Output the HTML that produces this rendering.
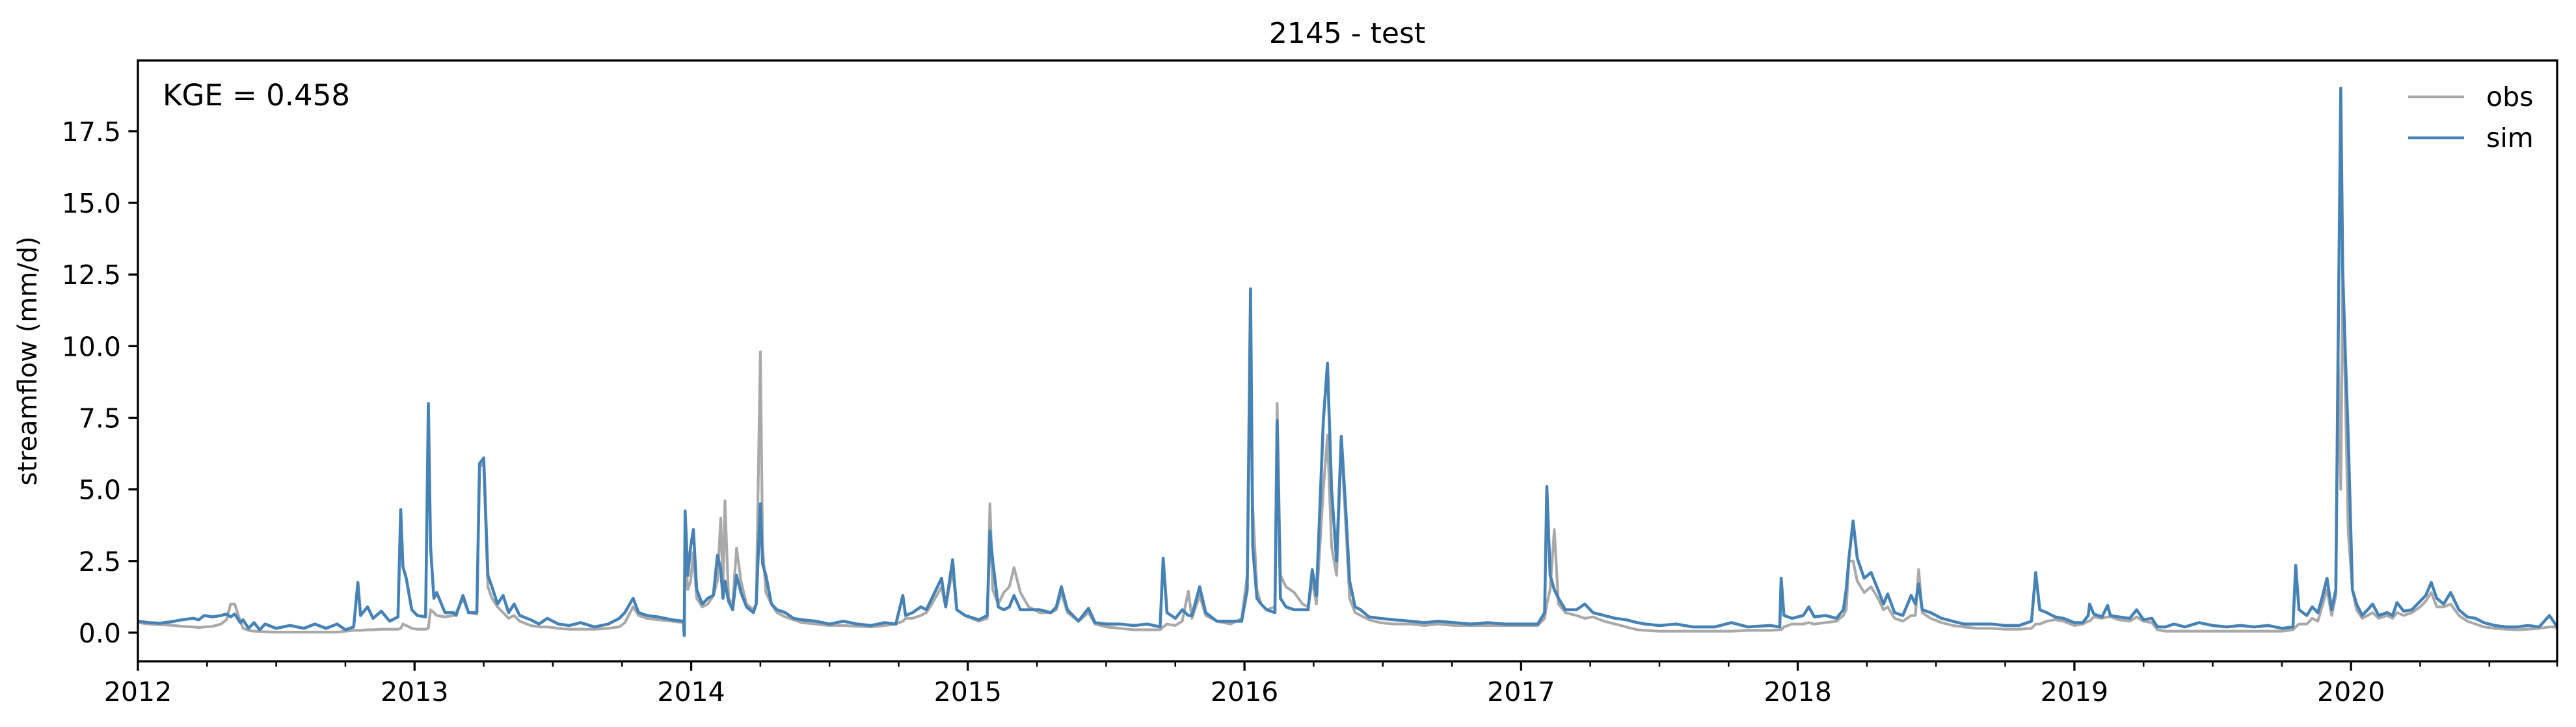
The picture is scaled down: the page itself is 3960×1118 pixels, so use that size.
<!DOCTYPE html>
<html><head><meta charset="utf-8"><style>
html,body{margin:0;padding:0;background:#fff;}
svg{display:block;font-family:"DejaVu Sans","Liberation Sans",sans-serif;}
</style></head><body>
<svg id="chart" width="3960" height="1118" viewBox="0 0 3960 1118" xmlns="http://www.w3.org/2000/svg">
<defs><clipPath id="plotclip"><rect x="212" y="93" width="3719" height="924"/></clipPath></defs>
<rect x="0" y="0" width="3960" height="1118" fill="#fff"/>
<text x="2071" y="66" text-anchor="middle" font-size="44">2145 - test</text>
<text transform="translate(56,555) rotate(-90)" text-anchor="middle" font-size="40">streamflow (mm/d)</text>
<g id="yticks"></g>
<g id="xticks"></g>
<g clip-path="url(#plotclip)">
<polyline id="obsLine" fill="none" stroke="#a9a9a9" stroke-width="4.2" stroke-linejoin="round"/>
<polyline id="simLine" fill="none" stroke="#4682b4" stroke-width="4.6" stroke-linejoin="round"/>
</g>
<rect x="212" y="93" width="3719" height="924" fill="none" stroke="#000" stroke-width="3.3"/>
<text x="250" y="162" font-size="45">KGE = 0.458</text>
<g>
<line x1="3702" y1="149" x2="3788" y2="149" stroke="#a9a9a9" stroke-width="4.2"/>
<text x="3822" y="163" font-size="41">obs</text>
<line x1="3702" y1="212" x2="3788" y2="212" stroke="#4682b4" stroke-width="4.6"/>
<text x="3822" y="226" font-size="41">sim</text>
</g>
</svg>
<script>
const dates = [2012.000,2012.040,2012.080,2012.120,2012.160,2012.200,2012.220,2012.240,2012.270,2012.300,2012.320,2012.335,2012.350,2012.370,2012.380,2012.400,2012.420,2012.440,2012.460,2012.500,2012.550,2012.600,2012.640,2012.680,2012.720,2012.750,2012.780,2012.795,2012.805,2012.830,2012.850,2012.880,2012.910,2012.940,2012.950,2012.958,2012.970,2012.990,2013.010,2013.040,2013.050,2013.058,2013.070,2013.080,2013.110,2013.140,2013.150,2013.175,2013.195,2013.225,2013.235,2013.250,2013.265,2013.280,2013.300,2013.320,2013.340,2013.360,2013.380,2013.420,2013.450,2013.480,2013.520,2013.560,2013.600,2013.650,2013.700,2013.740,2013.760,2013.790,2013.810,2013.840,2013.880,2013.930,2013.972,2013.975,2013.978,2013.988,2013.998,2014.008,2014.020,2014.040,2014.060,2014.080,2014.095,2014.107,2014.115,2014.122,2014.135,2014.150,2014.164,2014.180,2014.200,2014.225,2014.235,2014.250,2014.258,2014.270,2014.290,2014.310,2014.340,2014.370,2014.400,2014.450,2014.500,2014.550,2014.600,2014.650,2014.700,2014.740,2014.765,2014.775,2014.800,2014.830,2014.850,2014.870,2014.905,2014.920,2014.945,2014.960,2014.990,2015.040,2015.070,2015.080,2015.090,2015.110,2015.130,2015.150,2015.167,2015.190,2015.220,2015.260,2015.300,2015.320,2015.338,2015.360,2015.400,2015.436,2015.460,2015.500,2015.550,2015.600,2015.650,2015.695,2015.706,2015.720,2015.750,2015.775,2015.797,2015.810,2015.838,2015.860,2015.900,2015.950,2015.990,2016.010,2016.022,2016.030,2016.045,2016.060,2016.080,2016.110,2016.118,2016.130,2016.150,2016.180,2016.210,2016.230,2016.245,2016.260,2016.285,2016.300,2016.315,2016.333,2016.350,2016.365,2016.380,2016.400,2016.420,2016.450,2016.490,2016.540,2016.600,2016.650,2016.700,2016.760,2016.820,2016.880,2016.940,2017.000,2017.060,2017.085,2017.093,2017.105,2017.120,2017.135,2017.160,2017.200,2017.230,2017.260,2017.300,2017.340,2017.380,2017.420,2017.450,2017.500,2017.560,2017.620,2017.700,2017.760,2017.820,2017.900,2017.935,2017.940,2017.950,2017.980,2018.020,2018.040,2018.060,2018.100,2018.140,2018.165,2018.175,2018.185,2018.200,2018.215,2018.240,2018.265,2018.290,2018.310,2018.325,2018.350,2018.380,2018.410,2018.425,2018.437,2018.450,2018.480,2018.520,2018.560,2018.600,2018.650,2018.700,2018.750,2018.800,2018.845,2018.860,2018.875,2018.900,2018.930,2018.960,2019.000,2019.030,2019.050,2019.055,2019.070,2019.100,2019.120,2019.130,2019.160,2019.200,2019.225,2019.250,2019.280,2019.300,2019.330,2019.360,2019.400,2019.450,2019.500,2019.550,2019.600,2019.650,2019.700,2019.750,2019.790,2019.800,2019.812,2019.840,2019.860,2019.880,2019.895,2019.913,2019.930,2019.945,2019.953,2019.963,2019.970,2019.980,2019.990,2020.005,2020.020,2020.040,2020.060,2020.078,2020.100,2020.130,2020.150,2020.166,2020.190,2020.220,2020.250,2020.270,2020.290,2020.310,2020.335,2020.360,2020.390,2020.420,2020.450,2020.480,2020.520,2020.560,2020.600,2020.640,2020.680,2020.717,2020.735,2020.745];
const obs = [0.35,0.30,0.28,0.26,0.22,0.20,0.18,0.20,0.22,0.30,0.45,1.00,1.00,0.40,0.15,0.08,0.05,0.04,0.03,0.02,0.02,0.02,0.02,0.02,0.02,0.05,0.08,0.08,0.08,0.10,0.10,0.12,0.12,0.12,0.15,0.30,0.25,0.15,0.12,0.12,0.15,0.80,0.70,0.60,0.55,0.60,0.70,1.20,0.70,0.65,5.80,5.90,1.60,1.20,0.90,0.70,0.50,0.60,0.40,0.25,0.20,0.20,0.15,0.12,0.12,0.12,0.15,0.20,0.35,0.90,0.60,0.50,0.45,0.40,0.35,0.35,2.80,1.50,1.80,2.80,1.20,0.90,1.00,1.30,1.80,4.00,1.50,4.60,1.20,1.00,2.95,1.80,1.00,0.80,1.00,9.80,3.00,1.40,1.00,0.70,0.55,0.45,0.35,0.30,0.25,0.25,0.22,0.20,0.25,0.30,0.40,0.50,0.50,0.60,0.70,1.00,1.60,0.90,2.20,0.80,0.60,0.40,0.50,4.50,1.50,1.00,1.40,1.60,2.27,1.40,0.90,0.70,0.70,0.80,1.40,0.70,0.40,0.70,0.30,0.20,0.15,0.10,0.10,0.10,0.20,0.30,0.25,0.40,1.45,0.50,1.30,0.60,0.40,0.30,0.50,2.00,9.50,4.40,1.50,1.00,0.80,0.90,8.00,2.00,1.60,1.40,1.00,0.90,1.80,1.00,5.00,6.90,3.00,2.00,6.60,4.00,1.20,0.70,0.60,0.45,0.35,0.30,0.30,0.25,0.30,0.25,0.25,0.25,0.25,0.25,0.25,0.50,1.00,1.50,3.60,1.00,0.70,0.60,0.50,0.55,0.40,0.30,0.20,0.10,0.08,0.05,0.05,0.05,0.05,0.05,0.08,0.08,0.10,0.10,0.20,0.30,0.30,0.35,0.30,0.35,0.40,0.60,0.80,2.50,2.50,1.80,1.40,1.60,1.20,0.80,0.90,0.50,0.40,0.60,0.60,2.20,0.70,0.50,0.35,0.25,0.20,0.15,0.15,0.12,0.12,0.15,0.30,0.30,0.40,0.45,0.40,0.25,0.30,0.40,0.40,0.55,0.50,0.55,0.55,0.45,0.40,0.55,0.40,0.35,0.10,0.05,0.05,0.05,0.05,0.05,0.05,0.05,0.05,0.05,0.05,0.10,0.20,0.30,0.30,0.50,0.40,0.90,1.50,0.60,1.30,9.70,5.00,12.70,8.00,3.50,1.50,0.80,0.50,0.60,0.70,0.50,0.60,0.50,0.70,0.60,0.70,0.90,1.10,1.40,0.90,0.90,1.00,0.60,0.40,0.30,0.20,0.15,0.12,0.10,0.12,0.15,0.20,0.20,0.15];
const sim = [0.40,0.35,0.33,0.38,0.45,0.50,0.45,0.60,0.55,0.60,0.65,0.55,0.65,0.35,0.45,0.15,0.35,0.10,0.30,0.15,0.25,0.15,0.30,0.15,0.30,0.10,0.20,1.75,0.60,0.90,0.50,0.75,0.40,0.55,4.30,2.30,1.90,0.80,0.60,0.55,8.00,3.00,1.20,1.40,0.70,0.70,0.60,1.30,0.70,0.70,5.90,6.10,2.00,1.60,1.00,1.30,0.70,1.00,0.60,0.45,0.30,0.50,0.30,0.25,0.35,0.20,0.30,0.50,0.70,1.20,0.70,0.60,0.55,0.45,0.40,-0.10,4.25,2.00,3.00,3.60,1.50,1.00,1.20,1.30,2.70,2.20,1.20,1.80,1.10,0.80,2.00,1.40,0.90,0.70,1.00,4.50,2.40,2.00,1.00,0.80,0.70,0.50,0.45,0.40,0.30,0.40,0.30,0.25,0.35,0.30,1.30,0.60,0.70,0.90,0.80,1.20,1.90,0.90,2.55,0.80,0.60,0.45,0.60,3.55,2.50,0.90,0.80,0.90,1.30,0.80,0.80,0.80,0.70,0.90,1.60,0.80,0.40,0.85,0.35,0.30,0.30,0.25,0.30,0.20,2.60,0.70,0.50,0.80,0.60,0.60,1.60,0.70,0.40,0.40,0.40,1.50,12.00,3.00,1.20,1.00,0.80,0.70,7.40,1.20,0.90,0.80,0.80,0.80,2.20,1.30,7.40,9.40,5.00,2.50,6.85,4.50,1.80,0.90,0.80,0.55,0.50,0.45,0.40,0.35,0.40,0.35,0.30,0.35,0.30,0.30,0.30,0.70,5.10,2.00,1.50,1.20,0.80,0.80,1.00,0.70,0.60,0.50,0.45,0.35,0.30,0.25,0.30,0.20,0.20,0.35,0.20,0.25,0.20,1.90,0.60,0.50,0.60,0.90,0.55,0.60,0.50,0.80,1.50,2.60,3.90,2.60,1.90,2.10,1.50,1.00,1.35,0.70,0.60,1.30,1.00,1.70,0.80,0.70,0.50,0.40,0.30,0.30,0.30,0.25,0.25,0.40,2.10,0.80,0.70,0.55,0.50,0.35,0.35,0.60,1.00,0.65,0.55,0.95,0.60,0.55,0.50,0.80,0.45,0.50,0.20,0.20,0.30,0.20,0.35,0.25,0.20,0.25,0.20,0.25,0.15,0.20,2.35,0.80,0.60,0.90,0.70,1.20,1.90,0.80,1.50,9.70,19.00,12.60,9.50,6.80,1.50,1.00,0.60,0.80,1.00,0.60,0.70,0.60,1.05,0.75,0.80,1.10,1.30,1.75,1.20,1.00,1.40,0.80,0.55,0.50,0.35,0.25,0.20,0.20,0.25,0.20,0.60,0.35,0.20];
const yTickValues = [0, 2.5, 5, 7.5, 10, 12.5, 15, 17.5];
const yTickLabels = ["0.0","2.5","5.0","7.5","10.0","12.5","15.0","17.5"];
const xYearLabels = ["2012","2013","2014","2015","2016","2017","2018","2019","2020"];

const X0 = 212, X1 = 3931, Y0 = 1017, Y1 = 93;
const xMin = 2012, xMax = 2020.745, yMin = -1.0, yMax = 19.97;
function xScale(t){ return X0 + (t - xMin) / (xMax - xMin) * (X1 - X0); }
function yScale(v){ return Y0 - (v - yMin) / (yMax - yMin) * (Y0 - Y1); }
const NS = "http://www.w3.org/2000/svg";

function pts(arr){ return dates.map((t,i)=> xScale(t).toFixed(1)+","+yScale(arr[i]).toFixed(1)).join(" "); }
document.getElementById("obsLine").setAttribute("points", pts(obs));
document.getElementById("simLine").setAttribute("points", pts(sim));

const yg = document.getElementById("yticks");
yTickValues.forEach((v,i)=>{
  const y = yScale(v);
  const ln = document.createElementNS(NS,"line");
  ln.setAttribute("x1", X0-14.6); ln.setAttribute("x2", X0); ln.setAttribute("y1", y); ln.setAttribute("y2", y);
  ln.setAttribute("stroke","#000"); ln.setAttribute("stroke-width","3.3");
  
  
  yg.appendChild(ln);
  const tx = document.createElementNS(NS,"text");
  tx.setAttribute("x", X0-26); tx.setAttribute("y", y+15); tx.setAttribute("text-anchor","end"); tx.setAttribute("font-size","41");
  tx.textContent = yTickLabels[i];
  
  
  yg.appendChild(tx);
});

const xg = document.getElementById("xticks");
xYearLabels.forEach((lab)=>{
  const yr = parseInt(lab,10);
  for(let q=0;q<4;q++){
    const t = yr + q*0.25;
    if(t > xMax + 0.005) continue;
    const x = Math.min(xScale(t), X1);
    const major = q===0;
    const ln = document.createElementNS(NS,"line");
    ln.setAttribute("x1", x); ln.setAttribute("x2", x); ln.setAttribute("y1", Y0); ln.setAttribute("y2", Y0 + (major?14.6:8.3));
    ln.setAttribute("stroke","#000"); ln.setAttribute("stroke-width", major?"3.3":"2.5");
    
    
    xg.appendChild(ln);
  }
  const lt = yr + 1;
  if (lt <= xMax + 0.005) {
    const ln = document.createElementNS(NS,"line");
    ln.setAttribute("x1", X1); ln.setAttribute("x2", X1); ln.setAttribute("y1", Y0); ln.setAttribute("y2", Y0+8.3);
  }
  const tx = document.createElementNS(NS,"text");
  tx.setAttribute("x", xScale(yr)); tx.setAttribute("y", 1078); tx.setAttribute("text-anchor","middle"); tx.setAttribute("font-size","41");
  tx.textContent = lab;
  
  
  xg.appendChild(tx);
});
</script>
</body></html>
